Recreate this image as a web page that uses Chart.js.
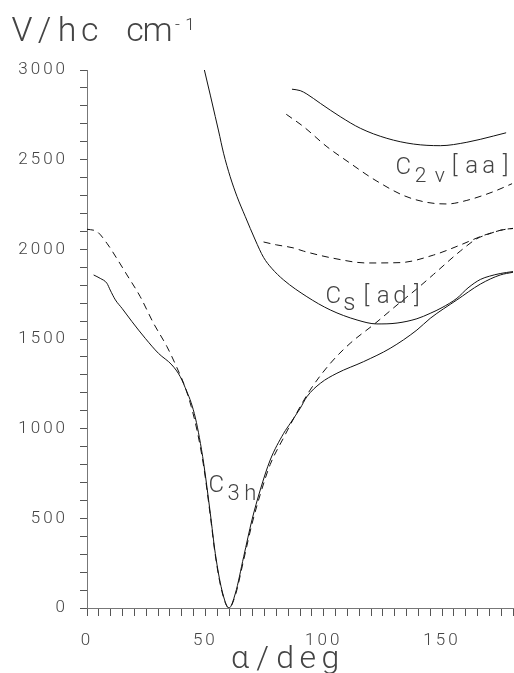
<!DOCTYPE html>
<html>
<head>
<meta charset="utf-8">
<script src="https://cdn.jsdelivr.net/npm/chart.js@4.4.1/dist/chart.umd.min.js"></script>
<style>
  html, body { margin: 0; padding: 0; background: #fff; overflow: hidden; }
  canvas { display: block; }
</style>
</head>
<body>
<canvas id="pes" width="514" height="673" style="width:514px;height:673px"></canvas>
<script>
// Potential energy V/hc (cm^-1) against bending angle alpha (deg)
const c3hSolidAlpha = [2.8, 5.6, 8.4, 9.8, 12, 14.8, 19, 24.6, 30.2, 35.9, 39.4, 42.2, 44, 45.8, 47.5, 49.3, 52.1, 54.2, 57, 60, 62.7, 66.2, 69.7, 73.2, 77.4, 83.1, 85.9, 90.1, 92.9, 98.6, 105.6, 116.9, 128.1, 139.4, 145, 156.3, 166.2, 174.6, 180];
const c3hSolidV     = [1857, 1838, 1811, 1773, 1718, 1671, 1597, 1504, 1420, 1355, 1290, 1206, 1145, 1060, 950, 807, 528, 305, 100, 0, 82, 286, 491, 658, 825, 974, 1030, 1114, 1178, 1253, 1309, 1374, 1448, 1550, 1615, 1718, 1806, 1857, 1872];

const c3hDashAlpha = [0, 4.2, 8.4, 12.7, 16.9, 22.5, 28.1, 33.8, 38, 41.5, 44, 46.5, 49.3, 52.1, 54.2, 57, 60, 62.7, 66.2, 69.7, 73.2, 77.4, 83.1, 88.7, 94.3, 102.8, 111.2, 121.1, 132.4, 139.4, 146.4, 157.7, 164.8, 169, 172, 174.6, 177, 180];
const c3hDashV     = [2112, 2099, 2034, 1947, 1857, 1736, 1588, 1457, 1340, 1230, 1125, 990, 790, 515, 295, 92, 0, 72, 268, 468, 633, 800, 950, 1090, 1216, 1364, 1476, 1580, 1705, 1780, 1860, 1990, 2060, 2082, 2096, 2106, 2112, 2116];

const csSolidAlpha = [49.6, 52.1, 54.2, 55.6, 57.7, 60.5, 63.4, 66.9, 71.1, 74.6, 78, 83.1, 92.9, 102.8, 114.1, 122.5, 131, 139.4, 145, 150, 156.3, 161, 166.2, 170, 174.6, 180];
const csSolidV     = [3000, 2860, 2740, 2660, 2536, 2405, 2294, 2182, 2052, 1955, 1895, 1829, 1736, 1662, 1606, 1584, 1589, 1613, 1643, 1675, 1727, 1785, 1832, 1850, 1865, 1876];

const csDashAlpha = [74.6, 80, 87.2, 91.5, 104.2, 118.3, 132.4, 146.4, 157.7, 166.2, 169, 172, 174.6, 177, 180];
const csDashV     = [2041, 2025, 2008, 1990, 1950, 1924, 1926, 1968, 2024, 2071, 2084, 2096, 2106, 2112, 2117];

const c2vSolidAlpha = [86.6, 90.1, 92.9, 98.6, 107, 115.5, 126.7, 138, 149.3, 160.5, 171.8, 177.1];
const c2vSolidV     = [2893, 2885, 2866, 2814, 2740, 2675, 2619, 2587, 2578, 2597, 2632, 2650];

const c2vDashAlpha = [84.2, 91.5, 101.4, 111.2, 118.3, 122.5, 133.8, 143.6, 152.1, 160.5, 171.8, 179.6];
const c2vDashV     = [2753, 2684, 2572, 2480, 2415, 2380, 2300, 2262, 2253, 2273, 2322, 2366];

// axis ranges and tick spacing
const alphaRange = [0, 180];
const vRange = [0, 3000];
const alphaTickStep = 5, alphaLabelStep = 50;
const vTickStep = 100, vLabelStep = 500;

const FONT = 'Roboto';
const INK = '#444';

function points(xs, ys) { return xs.map((x, i) => ({ x: x, y: ys[i] })); }

function curve(xs, ys, dashed) {
  return {
    data: points(xs, ys),
    showLine: true,
    borderColor: '#111',
    borderWidth: 1,
    borderDash: dashed ? [7, 5] : [],
    pointRadius: 0,
    cubicInterpolationMode: 'monotone',
    fill: false
  };
}

// draw a string with every glyph centred in its own fixed-width cell
function drawCells(ctx, text, firstCentre, baseline, cell, font) {
  ctx.font = font;
  for (let i = 0; i < text.length; i++) {
    ctx.fillText(text[i], firstCentre + i * cell, baseline);
  }
}

const textPlugin = {
  id: 'pesText',
  beforeDraw(chart) {
    chart.ctx.letterSpacing = '3px';
  },
  afterDraw(chart) {
    const ctx = chart.ctx;
    const sx = chart.scales.x, sy = chart.scales.y;
    ctx.save();
    ctx.letterSpacing = '0px';
    ctx.fillStyle = INK;
    ctx.textAlign = 'center';
    ctx.textBaseline = 'alphabetic';

    // axis titles
    drawCells(ctx, 'V/hc cm', 22, 41, 22.6, '300 34px ' + FONT);
    drawCells(ctx, '-1', 177.5, 30, 12.5, '300 17px ' + FONT);
    drawCells(ctx, '\u03b1/deg', 240, 668, 22.6, '300 32px ' + FONT);

    // curve labels, anchored at data coordinates
    let px = sx.getPixelForValue(54.6), py = sy.getPixelForValue(647);
    drawCells(ctx, 'C', px, py, 17, '300 24px ' + FONT);
    drawCells(ctx, '3h', px + 17.5, py + 8, 16.5, '300 22px ' + FONT);

    px = sx.getPixelForValue(104.1); py = sy.getPixelForValue(1701);
    drawCells(ctx, 'C', px, py, 17, '300 24px ' + FONT);
    drawCells(ctx, 's', px + 16, py + 7, 16, '300 24px ' + FONT);
    drawCells(ctx, '[ad]', px + 33, py, 16.8, '300 24px ' + FONT);

    px = sx.getPixelForValue(133.6); py = sy.getPixelForValue(2420);
    drawCells(ctx, 'C', px, py, 17, '300 24px ' + FONT);
    drawCells(ctx, '2v', px + 17.5, py + 8, 19, '300 21px ' + FONT);
    drawCells(ctx, '[aa]', px + 51.5, py - 1, 17, '300 24px ' + FONT);

    ctx.restore();
  }
};

const tickFont = { family: FONT, weight: 300, size: 17 };

new Chart(document.getElementById('pes'), {
  type: 'scatter',
  data: {
    datasets: [
      curve(c3hSolidAlpha, c3hSolidV, false),
      curve(c3hDashAlpha, c3hDashV, true),
      curve(csSolidAlpha, csSolidV, false),
      curve(csDashAlpha, csDashV, true),
      curve(c2vSolidAlpha, c2vSolidV, false),
      curve(c2vDashAlpha, c2vDashV, true)
    ]
  },
  options: {
    responsive: false,
    animation: false,
    devicePixelRatio: 1,
    layout: { padding: { top: 70, right: 1, left: 0, bottom: 0 } },
    plugins: { legend: { display: false }, tooltip: { enabled: false } },
    scales: {
      x: {
        type: 'linear',
        min: alphaRange[0],
        max: alphaRange[1],
        afterFit(scale) {
          scale.height = 65;
          scale.paddingLeft = 0;
          scale.paddingRight = 0;
        },
        border: { display: true, color: '#777', width: 1 },
        grid: { drawOnChartArea: false, drawTicks: true, tickLength: 8, color: '#555' },
        ticks: {
          stepSize: alphaTickStep,
          autoSkip: false,
          maxRotation: 0,
          minRotation: 0,
          padding: 15,
          color: INK,
          font: tickFont,
          callback: v => (v % alphaLabelStep === 0 ? String(v) : '')
        }
      },
      y: {
        type: 'linear',
        min: vRange[0],
        max: vRange[1],
        afterFit(scale) {
          scale.width = 87;
          scale.paddingTop = 0;
          scale.paddingBottom = 0;
        },
        border: { display: true, color: '#777', width: 1 },
        grid: { drawOnChartArea: false, drawTicks: true, tickLength: 7, color: '#555' },
        ticks: {
          stepSize: vTickStep,
          autoSkip: false,
          padding: 12,
          color: INK,
          font: tickFont,
          callback: v => (v % vLabelStep === 0 ? String(v) : '')
        }
      }
    }
  },
  plugins: [textPlugin]
});
</script>
</body>
</html>
